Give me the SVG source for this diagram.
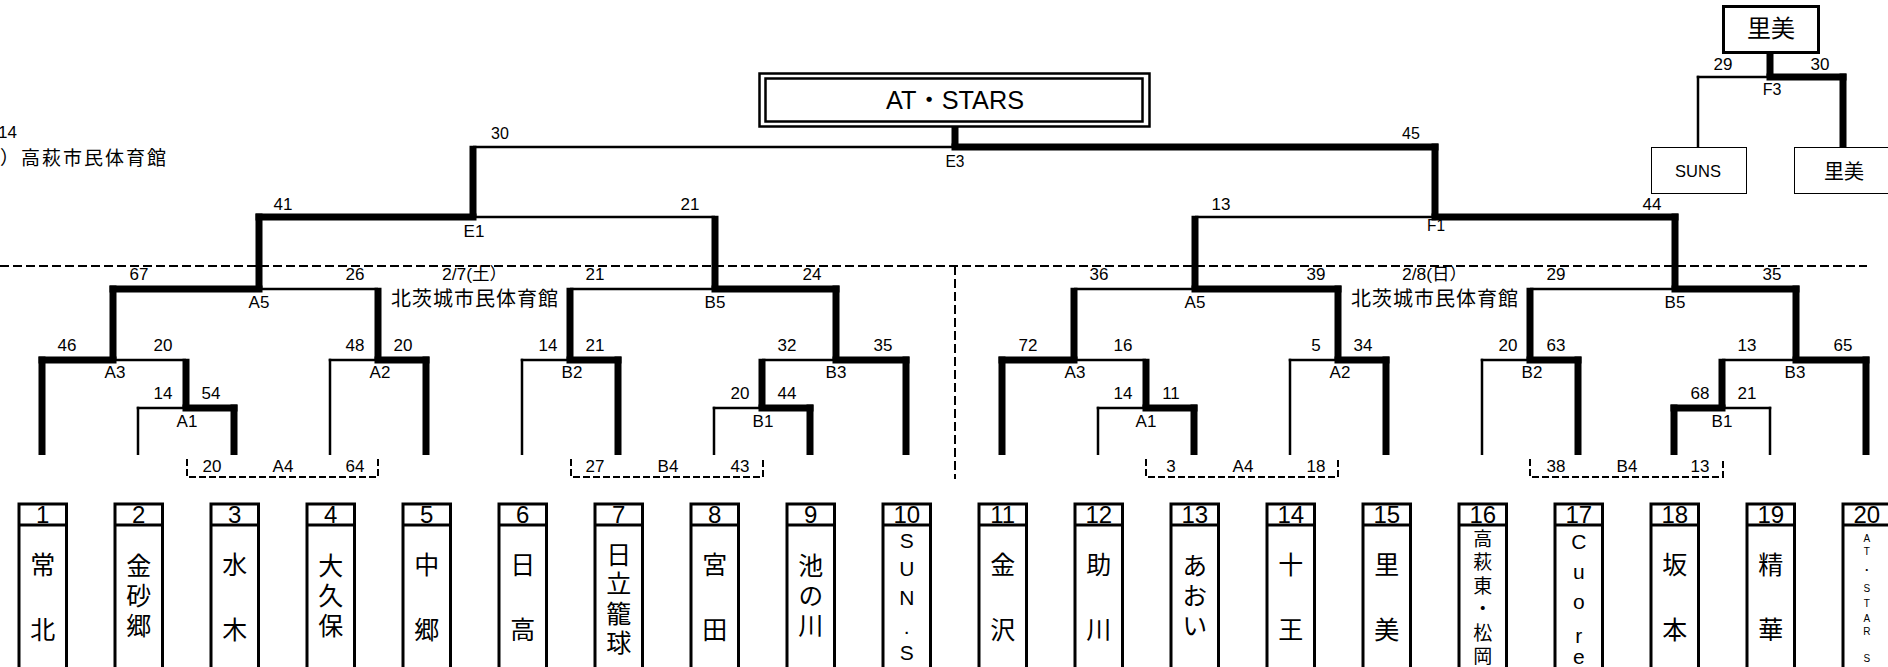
<svg xmlns="http://www.w3.org/2000/svg" width="1888" height="667" viewBox="0 0 1888 667">
<style>
.tk{stroke:#000;stroke-width:7;fill:none}
.tn{stroke:#000;stroke-width:2.5;fill:none}
.dl{stroke:#000;stroke-width:2;stroke-dasharray:9 4;fill:none}
.bk{stroke:#000;stroke-width:2;stroke-dasharray:7 3;fill:none}
.bx{stroke:#000;stroke-width:3;fill:none}
.lb{font-family:"Liberation Sans","Noto Sans CJK JP",sans-serif;font-size:17px;text-anchor:middle;fill:#000}
.nr{font-family:"Liberation Sans","Noto Sans CJK JP",sans-serif;font-size:16px;text-anchor:middle;fill:#000}
.no{font-family:"Liberation Sans",sans-serif;font-size:24px;text-anchor:middle;fill:#000}
.jp{font-family:"Noto Sans CJK JP",sans-serif;font-size:25px;text-anchor:middle;fill:#000}
.vt{font-family:"Noto Sans CJK JP",sans-serif;font-size:25px;writing-mode:vertical-rl;text-anchor:start;fill:#000}
.vn{font-family:"Noto Sans CJK JP",sans-serif;font-size:20px;fill:#000}
</style>
<rect width="1888" height="667" fill="#fff"/>

<g id="venue-labels">
<text class="lb" x="17" y="138" style="text-anchor:end">14</text>
<text class="vn" x="0" y="165" style="font-size:19px;letter-spacing:2px">）高萩市民体育館</text>
<text class="lb" x="474.5" y="280" textLength="65" lengthAdjust="spacingAndGlyphs">2/7(土）</text>
<text class="vn" x="391" y="306" style="letter-spacing:1px">北茨城市民体育館</text>
<text class="lb" x="1434.5" y="280" textLength="65" lengthAdjust="spacingAndGlyphs">2/8(日）</text>
<text class="vn" x="1351" y="306" style="letter-spacing:1px">北茨城市民体育館</text>
</g>

<g id="connectors">
<path class="dl" d="M0 266H1867M955 266V479"/>
<path class="bk" d="M187 459V477H378V459M571 459V477H763V459M1146 459V477H1338V459M1530 459V477H1723V459"/>
<path class="tk" d="M182.5 408H237.5M758.5 408H813.5M1142.5 408H1197.5M1670.5 408H1725.5
M38.5 360H116.5M374.5 360H429.5M566.5 360H621.5M832.5 360H909.5M998.5 360H1077.5M1334.5 360H1389.5M1526.5 360H1581.5M1792.5 360H1869.5
M109.5 289H262.5M711.5 289H839.5M1191.5 289H1341.5M1671.5 289H1799.5
M255.5 217H476.5M1431.5 217H1678.5
M951.5 147H1438.5
M1766.5 77H1846.5"/>
<path class="tn" d="M136.75 408H186M712.75 408H762M1096.75 408H1146M1722 408H1771.25
M113 360H186M328.75 360H378M520.75 360H570M762 360H836M1074 360H1146M1288.75 360H1338M1480.75 360H1530M1722 360H1796
M259 289H378M570 289H715M1074 289H1195M1530 289H1675
M473 217H715M1195 217H1435
M473 147H955
M1696.75 77H1770"/>
<path class="tk" d="M42 455V356.5M234 455V404.5M426 455V356.5M618 455V356.5M810 455V404.5M906 455V356.5
M1002 455V356.5M1194 455V404.5M1386 455V356.5M1578 455V356.5M1674 455V404.5M1866 455V356.5
M186 408V358.75M113 360V285.5M378 360V287.75M259 289V213.5
M762 408V358.75M570 360V287.75M836 360V285.5M715 289V215.75M473 217V145.75
M1146 408V358.75M1074 360V287.75M1338 360V285.5M1195 289V215.75
M1722 408V358.75M1530 360V287.75M1796 360V285.5M1675 289V213.5M1435 217V143.5
M955 147V127M1770 77V53M1843 147V73.5"/>
<path class="tn" d="M138 455V406.75M330 455V358.75M522 455V358.75M714 455V406.75M1098 455V406.75M1290 455V358.75M1482 455V358.75M1770 455V406.75M1698 147V75.75"/>
</g>

<g id="match-labels">
<text class="lb" x="139" y="280">67</text><text class="lb" x="355" y="280">26</text>
<text class="lb" x="595" y="280">21</text><text class="lb" x="812" y="280">24</text>
<text class="lb" x="1099" y="280">36</text><text class="lb" x="1316" y="280">39</text>
<text class="lb" x="1556" y="280">29</text><text class="lb" x="1772" y="280">35</text>
<text class="lb" x="259" y="308">A5</text><text class="lb" x="715" y="308">B5</text>
<text class="lb" x="1195" y="308">A5</text><text class="lb" x="1675" y="308">B5</text>
<text class="lb" x="67" y="351">46</text><text class="lb" x="163" y="351">20</text>
<text class="lb" x="355" y="351">48</text><text class="lb" x="403" y="351">20</text>
<text class="lb" x="548" y="351">14</text><text class="lb" x="595" y="351">21</text>
<text class="lb" x="787" y="351">32</text><text class="lb" x="883" y="351">35</text>
<text class="lb" x="1028" y="351">72</text><text class="lb" x="1123" y="351">16</text>
<text class="lb" x="1316" y="351">5</text><text class="lb" x="1363" y="351">34</text>
<text class="lb" x="1508" y="351">20</text><text class="lb" x="1556" y="351">63</text>
<text class="lb" x="1747" y="351">13</text><text class="lb" x="1843" y="351">65</text>
<text class="lb" x="115" y="378">A3</text><text class="lb" x="380" y="378">A2</text>
<text class="lb" x="572" y="378">B2</text><text class="lb" x="836" y="378">B3</text>
<text class="lb" x="1075" y="378">A3</text><text class="lb" x="1340" y="378">A2</text>
<text class="lb" x="1532" y="378">B2</text><text class="lb" x="1795" y="378">B3</text>
<text class="lb" x="163" y="399">14</text><text class="lb" x="211" y="399">54</text>
<text class="lb" x="740" y="399">20</text><text class="lb" x="787" y="399">44</text>
<text class="lb" x="1123" y="399">14</text><text class="lb" x="1171" y="399">11</text>
<text class="lb" x="1700" y="399">68</text><text class="lb" x="1747" y="399">21</text>
<text class="lb" x="187" y="427">A1</text><text class="lb" x="763" y="427">B1</text>
<text class="lb" x="1146" y="427">A1</text><text class="lb" x="1722" y="427">B1</text>
<text class="lb" x="212" y="472">20</text><text class="lb" x="283" y="472">A4</text><text class="lb" x="355" y="472">64</text>
<text class="lb" x="595" y="472">27</text><text class="lb" x="668" y="472">B4</text><text class="lb" x="740" y="472">43</text>
<text class="lb" x="1171" y="472">3</text><text class="lb" x="1243" y="472">A4</text><text class="lb" x="1316" y="472">18</text>
<text class="lb" x="1556" y="472">38</text><text class="lb" x="1627" y="472">B4</text><text class="lb" x="1700" y="472">13</text>
<text class="lb" x="283" y="210">41</text><text class="lb" x="690" y="210">21</text>
<text class="lb" x="1221" y="210">13</text><text class="lb" x="1652" y="210">44</text>
<text class="lb" x="474" y="237">E1</text>
<text class="nr" x="1436" y="231" textLength="18" lengthAdjust="spacingAndGlyphs">F1</text>
<text class="nr" x="500" y="139">30</text><text class="nr" x="1411" y="139">45</text>
<text class="nr" x="955" y="167" textLength="19" lengthAdjust="spacingAndGlyphs">E3</text>
<text class="lb" x="1723" y="70">29</text><text class="lb" x="1820" y="70">30</text>
<text class="nr" x="1772" y="95">F3</text>
</g>

<g id="champion">
<rect x="759.5" y="73.5" width="390" height="53" fill="none" stroke="#000" stroke-width="2.5"/>
<rect x="765.5" y="78.5" width="377" height="43" fill="none" stroke="#000" stroke-width="2.5"/>
<text x="955" y="109" textLength="138" lengthAdjust="spacingAndGlyphs" style="font-family:'Liberation Sans','Noto Sans CJK JP',sans-serif;font-size:25px;text-anchor:middle">AT・STARS</text>
</g>

<g id="f3-winner">
<rect x="1723.5" y="6.5" width="95" height="46" fill="#fff" stroke="#000" stroke-width="3"/>
<text class="jp" x="1771" y="37" style="font-size:24px">里美</text>
</g>
<g id="f3-suns">
<rect x="1651.5" y="147.5" width="95" height="46" fill="#fff" stroke="#000" stroke-width="1"/>
<text class="lb" x="1698" y="177" style="font-size:16.5px">SUNS</text>
</g>
<g id="f3-satomi">
<rect x="1794.5" y="147.5" width="100" height="46" fill="#fff" stroke="#000" stroke-width="1"/>
<text class="jp" x="1844" y="178.5" style="font-size:20px">里美</text>
</g>

<g id="team-1" transform="translate(0 0)"><path class="bx" d="M19 670V504H66.5V670M19 525H66.5"/><text class="no" x="42.75" y="523">1</text><text class="jp" x="42.75" y="573.5">常</text><text class="jp" x="42.75" y="638.5">北</text></g>
<g id="team-2" transform="translate(96 0)"><path class="bx" d="M19 670V504H66.5V670M19 525H66.5"/><text class="no" x="42.75" y="523">2</text><text class="vt" x="42.75" y="552.5" style="letter-spacing:5px">金砂郷</text></g>
<g id="team-3" transform="translate(192 0)"><path class="bx" d="M19 670V504H66.5V670M19 525H66.5"/><text class="no" x="42.75" y="523">3</text><text class="jp" x="42.75" y="573.5">水</text><text class="jp" x="42.75" y="638.5">木</text></g>
<g id="team-4" transform="translate(288 0)"><path class="bx" d="M19 670V504H66.5V670M19 525H66.5"/><text class="no" x="42.75" y="523">4</text><text class="vt" x="42.75" y="552.5" style="letter-spacing:5px">大久保</text></g>
<g id="team-5" transform="translate(384 0)"><path class="bx" d="M19 670V504H66.5V670M19 525H66.5"/><text class="no" x="42.75" y="523">5</text><text class="jp" x="42.75" y="573.5">中</text><text class="jp" x="42.75" y="638.5">郷</text></g>
<g id="team-6" transform="translate(480 0)"><path class="bx" d="M19 670V504H66.5V670M19 525H66.5"/><text class="no" x="42.75" y="523">6</text><text class="jp" x="42.75" y="573.5">日</text><text class="jp" x="42.75" y="638.5">高</text></g>
<g id="team-7" transform="translate(576 0)"><path class="bx" d="M19 670V504H66.5V670M19 525H66.5"/><text class="no" x="42.75" y="523">7</text><text class="vt" x="42.75" y="541.5" style="letter-spacing:4.5px">日立籠球</text></g>
<g id="team-8" transform="translate(672 0)"><path class="bx" d="M19 670V504H66.5V670M19 525H66.5"/><text class="no" x="42.75" y="523">8</text><text class="jp" x="42.75" y="573.5">宮</text><text class="jp" x="42.75" y="638.5">田</text></g>
<g id="team-9" transform="translate(768 0)"><path class="bx" d="M19 670V504H66.5V670M19 525H66.5"/><text class="no" x="42.75" y="523">9</text><text class="vt" x="42.75" y="552.5" style="letter-spacing:5px">池の川</text></g>
<g id="team-10" transform="translate(864 0)"><path class="bx" d="M19 670V504H66.5V670M19 525H66.5"/><text class="no" x="42.75" y="523">10</text><text class="lb" style="font-size:21px"><tspan x="42.75" y="548">S</tspan><tspan x="42.75" y="576">U</tspan><tspan x="42.75" y="605">N</tspan><tspan x="42.75" y="634">.</tspan><tspan x="42.75" y="660">S</tspan></text></g>
<g id="team-11" transform="translate(960 0)"><path class="bx" d="M19 670V504H66.5V670M19 525H66.5"/><text class="no" x="42.75" y="523">11</text><text class="jp" x="42.75" y="573.5">金</text><text class="jp" x="42.75" y="638.5">沢</text></g>
<g id="team-12" transform="translate(1056 0)"><path class="bx" d="M19 670V504H66.5V670M19 525H66.5"/><text class="no" x="42.75" y="523">12</text><text class="jp" x="42.75" y="573.5">助</text><text class="jp" x="42.75" y="638.5">川</text></g>
<g id="team-13" transform="translate(1152 0)"><path class="bx" d="M19 670V504H66.5V670M19 525H66.5"/><text class="no" x="42.75" y="523">13</text><text class="vt" x="42.75" y="552.5" style="letter-spacing:5px">あおい</text></g>
<g id="team-14" transform="translate(1248 0)"><path class="bx" d="M19 670V504H66.5V670M19 525H66.5"/><text class="no" x="42.75" y="523">14</text><text class="jp" x="42.75" y="573.5">十</text><text class="jp" x="42.75" y="638.5">王</text></g>
<g id="team-15" transform="translate(1344 0)"><path class="bx" d="M19 670V504H66.5V670M19 525H66.5"/><text class="no" x="42.75" y="523">15</text><text class="jp" x="42.75" y="573.5">里</text><text class="jp" x="42.75" y="638.5">美</text></g>
<g id="team-16" transform="translate(1440 0)"><path class="bx" d="M19 670V504H66.5V670M19 525H66.5"/><text class="no" x="42.75" y="523">16</text><text class="vt" x="42.75" y="529" style="font-size:19px;letter-spacing:4.5px">高萩東・松岡</text></g>
<g id="team-17" transform="translate(1536 0)"><path class="bx" d="M19 670V504H66.5V670M19 525H66.5"/><text class="no" x="42.75" y="523">17</text><text class="lb" style="font-size:21px"><tspan x="42.75" y="549">C</tspan><tspan x="42.75" y="579">u</tspan><tspan x="42.75" y="609">o</tspan><tspan x="42.75" y="643">r</tspan><tspan x="42.75" y="664">e</tspan></text></g>
<g id="team-18" transform="translate(1632 0)"><path class="bx" d="M19 670V504H66.5V670M19 525H66.5"/><text class="no" x="42.75" y="523">18</text><text class="jp" x="42.75" y="573.5">坂</text><text class="jp" x="42.75" y="638.5">本</text></g>
<g id="team-19" transform="translate(1728 0)"><path class="bx" d="M19 670V504H66.5V670M19 525H66.5"/><text class="no" x="42.75" y="523">19</text><text class="jp" x="42.75" y="573.5">精</text><text class="jp" x="42.75" y="638.5">華</text></g>
<g id="team-20" transform="translate(1824 0)"><path class="bx" d="M19 670V504H66.5V670M19 525H66.5"/><text class="no" x="42.75" y="523">20</text><text class="lb" style="font-size:10px"><tspan x="42.75" y="542">A</tspan><tspan x="42.75" y="555">T</tspan><tspan x="42.75" y="574">・</tspan><tspan x="42.75" y="592">S</tspan><tspan x="42.75" y="607">T</tspan><tspan x="42.75" y="622">A</tspan><tspan x="42.75" y="635">R</tspan><tspan x="42.75" y="662">S</tspan></text></g>
</svg>
